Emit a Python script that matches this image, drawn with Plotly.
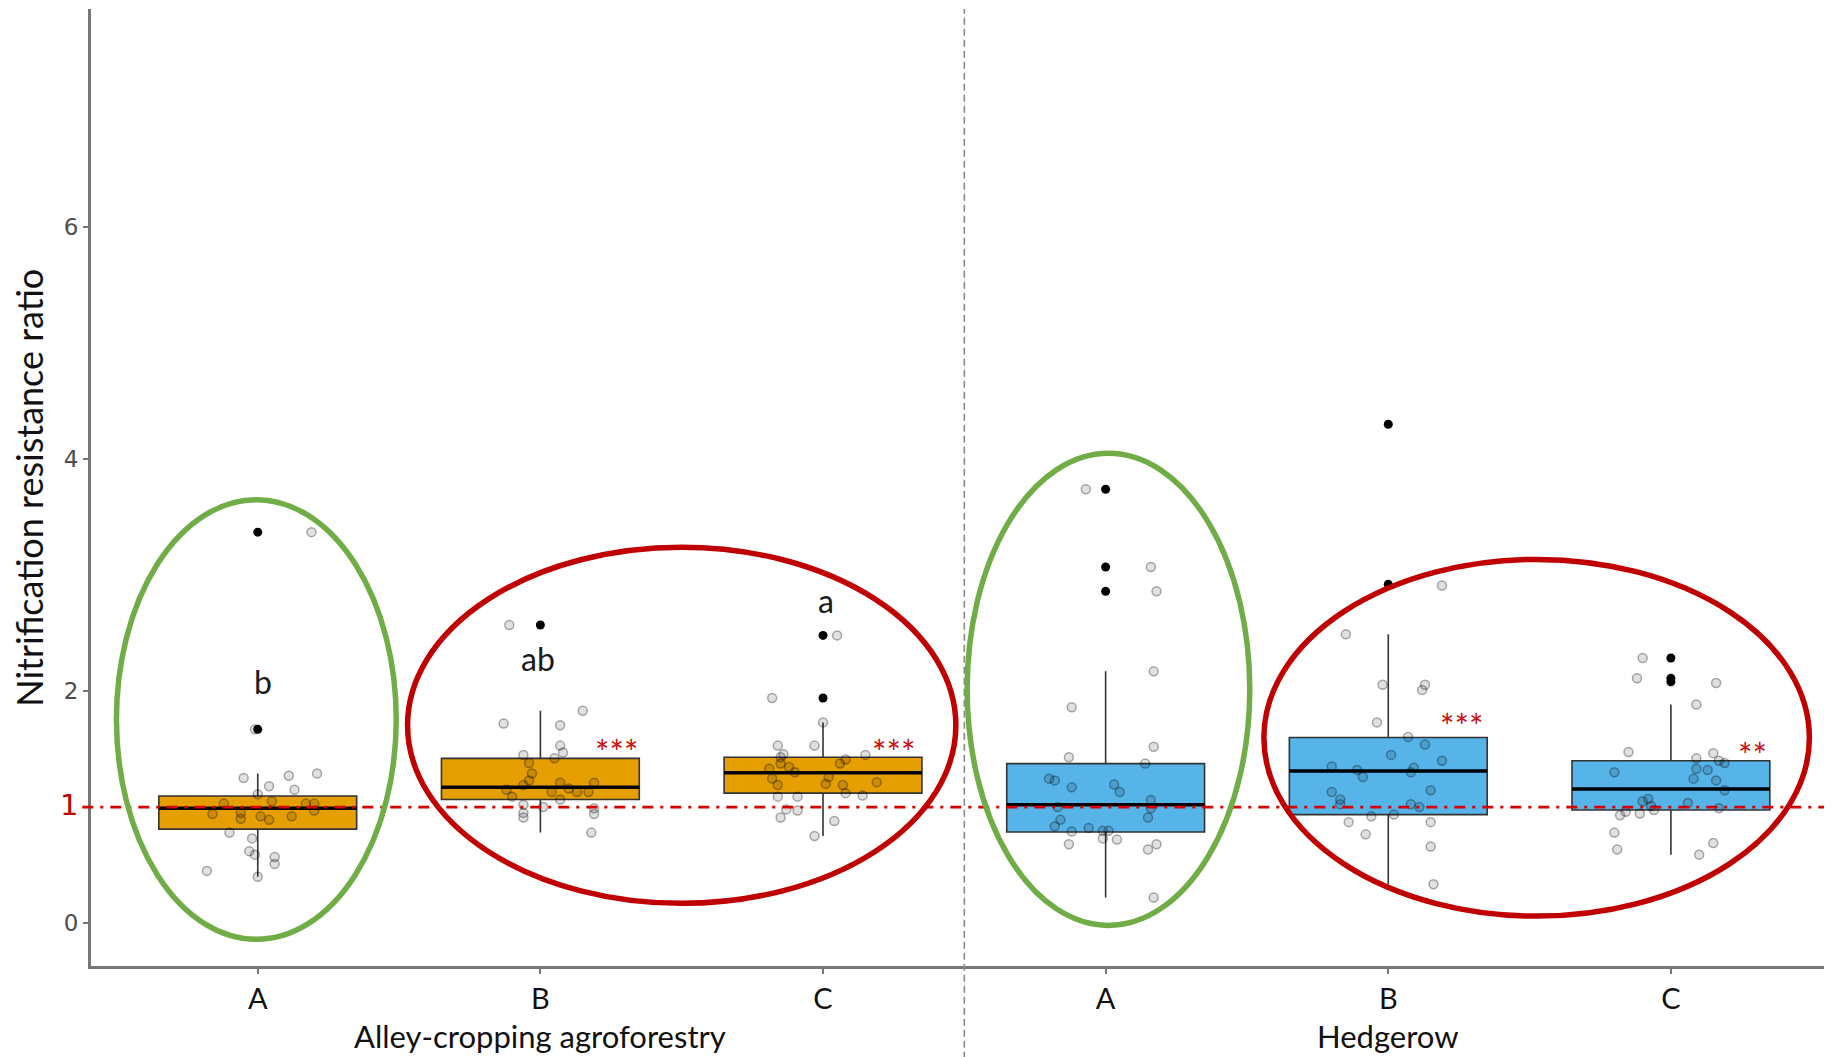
import plotly.graph_objects as go

# ---------------- data ----------------
categories = ["A", "B", "C", "A", "B", "C"]
positions = [1, 2, 3, 4, 5, 6]
systems = ["Alley-cropping agroforestry", "Hedgerow"]
system_centers = [2, 5]
box_colors = ["#E69F00", "#E69F00", "#E69F00", "#56B4E9", "#56B4E9", "#56B4E9"]

q1 = [0.81, 1.065, 1.12, 0.785, 0.935, 0.975]
median = [0.99, 1.17, 1.295, 1.02, 1.31, 1.155]
q3 = [1.095, 1.42, 1.43, 1.375, 1.60, 1.40]
lower_whisker = [0.40, 0.78, 0.75, 0.22, 0.335, 0.59]
upper_whisker = [1.29, 1.83, 1.73, 2.17, 2.49, 1.885]

outliers = [
    [3.37, 1.67],
    [2.57],
    [2.48, 1.94],
    [3.74, 3.07, 2.86],
    [4.30, 2.92],
    [2.285, 2.11, 2.08],
]

obs_A1 = [3.37, 1.67, 1.25, 1.27, 1.29, 1.18, 1.15, 1.11, 1.05, 1.03, 1.03, 1.03, 0.97, 0.94,
          0.95, 0.90, 0.92, 0.89, 0.92, 0.78, 0.73, 0.62, 0.59, 0.57, 0.51, 0.45, 0.40]
jit_A1 = [0.19, -0.01, -0.05, 0.11, 0.21, 0.04, 0.13, 0.00, 0.05, -0.12, 0.17, 0.20, 0.20, -0.16,
          -0.06, -0.06, 0.01, 0.04, 0.12, -0.10, -0.02, -0.03, -0.01, 0.06, 0.06, -0.18, 0.00]

obs_B1 = [2.57, 1.72, 1.705, 1.83, 1.53, 1.47, 1.45, 1.42, 1.38, 1.29, 1.23, 1.19, 1.21, 1.21,
          1.16, 1.15, 1.13, 1.13, 1.13, 1.09, 1.065, 1.02, 1.00, 0.99, 0.95, 0.94, 0.91, 0.78]
jit_B1 = [-0.11, -0.13, 0.07, 0.15, 0.07, 0.08, -0.06, 0.05, -0.04, -0.03, -0.04, -0.06, 0.07, 0.19,
          0.10, -0.12, 0.04, 0.13, 0.17, -0.10, 0.07, -0.06, 0.01, 0.19, -0.06, 0.19, -0.06, 0.18]

obs_C1 = [2.48, 1.94, 1.73, 1.53, 1.53, 1.455, 1.43, 1.45, 1.41, 1.375, 1.375, 1.33, 1.345, 1.30,
          1.245, 1.26, 1.215, 1.19, 1.20, 1.19, 1.12, 1.10, 1.09, 1.09, 0.98, 0.97, 0.91, 0.88, 0.75]
jit_C1 = [0.05, -0.18, 0.00, -0.16, -0.03, -0.14, -0.15, 0.15, 0.08, -0.15, 0.06, -0.19, -0.12, -0.10,
          -0.18, 0.02, 0.19, -0.16, 0.01, 0.07, 0.08, 0.14, -0.16, -0.09, -0.13, -0.09, -0.15, 0.04, -0.03]

obs_A2 = [3.74, 3.07, 2.86, 2.17, 1.86, 1.52, 1.43, 1.375, 1.245, 1.23, 1.17, 1.195, 1.13, 1.06,
          0.99, 1.00, 0.91, 0.89, 0.835, 0.82, 0.79, 0.795, 0.795, 0.73, 0.72, 0.68, 0.68, 0.635, 0.22]
jit_A2 = [-0.07, 0.16, 0.18, 0.17, -0.12, 0.17, -0.13, 0.14, -0.20, -0.18, -0.12, 0.03, 0.05, 0.16,
          0.16, -0.17, 0.15, -0.16, -0.18, -0.06, -0.12, -0.01, 0.01, -0.01, 0.04, -0.13, 0.18, 0.15, 0.17]

obs_B2 = [2.91, 2.49, 2.055, 2.055, 2.01, 1.73, 1.605, 1.54, 1.45, 1.40, 1.35, 1.32, 1.34, 1.30,
          1.26, 1.145, 1.13, 1.065, 1.025, 1.025, 1.00, 0.92, 0.935, 0.87, 0.87, 0.765, 0.66, 0.335]
jit_B2 = [0.19, -0.15, -0.02, 0.13, 0.12, -0.04, 0.07, 0.13, 0.01, 0.19, -0.20, -0.11, 0.09, 0.08,
          -0.09, 0.15, -0.20, -0.17, -0.17, 0.08, 0.11, -0.06, 0.02, -0.14, 0.15, -0.08, 0.15, 0.16]

obs_C2 = [2.285, 2.11, 2.07, 1.885, 1.475, 1.465, 1.42, 1.40, 1.38, 1.30, 1.33, 1.32, 1.245, 1.23,
          1.145, 1.07, 1.05, 1.035, 1.01, 0.975, 0.96, 0.93, 0.945, 0.99, 0.78, 0.635, 0.69, 0.59]
jit_C2 = [-0.10, -0.12, 0.16, 0.09, -0.15, 0.15, 0.09, 0.17, 0.19, -0.20, 0.09, 0.13, 0.08, 0.16,
          0.19, -0.08, -0.10, 0.06, -0.07, -0.06, -0.16, -0.18, -0.11, 0.17, -0.20, -0.19, 0.15, 0.10]

observations = [obs_A1, obs_B1, obs_C1, obs_A2, obs_B2, obs_C2]
jitters = [jit_A1, jit_B1, jit_C1, jit_A2, jit_B2, jit_C2]

# letters of post-hoc test (alley cropping only)
letter_text = ["b", "ab", "a"]
letter_x = [1.02, 1.99, 3.01]
letter_y = [2.08, 2.28, 2.78]

# significance stars
star_text = ["***", "***", "***", "**"]
star_x = [2.27, 3.25, 5.26, 6.29]
star_y = [1.55, 1.55, 1.77, 1.52]

# highlight ellipses: x0, x1, y0, y1, colour
ellipses = [
    (0.50, 1.49, -0.14, 3.65, "#70AD47"),
    (1.53, 3.47, 0.17, 3.24, "#C00000"),
    (3.51, 4.51, -0.02, 4.05, "#70AD47"),
    (4.56, 6.49, 0.06, 3.135, "#C00000"),
]

reference_value = 1
divider_x = 3.5
BOX_WIDTH = 0.7

# ---------------- figure ----------------
fig = go.Figure()

for i, pos in enumerate(positions):
    fig.add_trace(go.Box(
        x=[pos], q1=[q1[i]], median=[median[i]], q3=[q3[i]],
        lowerfence=[lower_whisker[i]], upperfence=[upper_whisker[i]],
        width=BOX_WIDTH, whiskerwidth=0, boxpoints=False,
        fillcolor=box_colors[i],
        line=dict(color="#333333", width=1.6),
        showlegend=False, hoverinfo="skip",
    ))

# thicker median lines
mx, my = [], []
for pos, m in zip(positions, median):
    mx += [pos - BOX_WIDTH / 2, pos + BOX_WIDTH / 2, None]
    my += [m, m, None]
fig.add_trace(go.Scatter(x=mx, y=my, mode="lines",
                         line=dict(color="black", width=3.5),
                         showlegend=False, hoverinfo="skip"))

# outliers (black)
ox, oy = [], []
for pos, outs in zip(positions, outliers):
    ox += [pos] * len(outs)
    oy += outs
fig.add_trace(go.Scatter(x=ox, y=oy, mode="markers",
                         marker=dict(color="black", size=9),
                         showlegend=False, hoverinfo="skip"))

# jittered observations
jx, jy = [], []
for pos, obs, jit in zip(positions, observations, jitters):
    jx += [pos + j for j in jit]
    jy += obs
fig.add_trace(go.Scatter(x=jx, y=jy, mode="markers",
                         marker=dict(color="rgba(0,0,0,0.12)", size=9,
                                     line=dict(color="rgba(0,0,0,0.32)", width=1.5)),
                         showlegend=False, hoverinfo="skip"))

shapes = []
# reference line at 1
shapes.append(dict(type="line", xref="paper", yref="y", x0=-0.005, x1=1,
                   y0=reference_value, y1=reference_value,
                   line=dict(color="#D40000", width=2.6, dash="11px,7px,3px,7px"),
                   layer="above"))
# divider
shapes.append(dict(type="line", xref="x", yref="paper", x0=divider_x, x1=divider_x,
                   y0=-0.12, y1=1, line=dict(color="#8a8a8a", width=1.6, dash="7px,4px"),
                   layer="above"))
for x0, x1, y0, y1, col in ellipses:
    shapes.append(dict(type="circle", xref="x", yref="y", x0=x0, x1=x1, y0=y0, y1=y1,
                       line=dict(color=col, width=5.5), layer="above"))

annotations = []
TXT_FONT = "Lato, 'Open Sans', sans-serif"
for t, x, y in zip(letter_text, letter_x, letter_y):
    annotations.append(dict(x=x, y=y, xref="x", yref="y", text=t, showarrow=False,
                            font=dict(family=TXT_FONT, size=32, color="#1a1a1a")))
for t, x, y in zip(star_text, star_x, star_y):
    annotations.append(dict(x=x, y=y, xref="x", yref="y", text=t, showarrow=False, yshift=-8,
                            font=dict(family=TXT_FONT, size=34, color="#CC1010")))
for t, x in zip(systems, system_centers):
    annotations.append(dict(x=x, y=-0.073, xref="x", yref="paper", text=t, showarrow=False,
                            yanchor="middle",
                            font=dict(family=TXT_FONT, size=31, color="#111111")))
annotations.append(dict(x=-0.036, y=0.5, xref="paper", yref="paper",
                        text="Nitrification resistance ratio", textangle=-90,
                        showarrow=False, xanchor="center", yanchor="middle",
                        font=dict(family=TXT_FONT, size=36, color="#111111")))

ytick_vals = [0, 1, 2, 4, 6]
ytick_text = ["0", "<span style='color:#C00000;font-size:29px'>1</span>", "2", "4", "6"]

# the page body has an 8px margin; the figure is sized so the plot area lands
# at the same place as in the reference
fig.update_layout(
    width=1824, height=1049,
    margin=dict(l=83, r=0, t=1, b=91),
    plot_bgcolor="white", paper_bgcolor="white",
    shapes=shapes, annotations=annotations,
    boxmode="overlay",
    xaxis=dict(range=[0.41, 6.57], tickvals=positions, ticktext=categories,
               showgrid=False, zeroline=False, showline=True,
               linecolor="#777777", linewidth=3,
               ticks="outside", ticklen=5, tickcolor="#777777", tickwidth=1.5,
               tickfont=dict(family=TXT_FONT, size=29, color="#111111")),
    yaxis=dict(range=[-0.37, 7.88], tickvals=ytick_vals, ticktext=ytick_text,
               showgrid=False, zeroline=False, showline=True,
               linecolor="#777777", linewidth=3,
               ticks="outside", ticklen=5, tickcolor="#777777", tickwidth=1.5,
               tickfont=dict(family="DejaVu Sans", size=23, color="#4d4d4d")),
)

fig.write_html("out.html")
